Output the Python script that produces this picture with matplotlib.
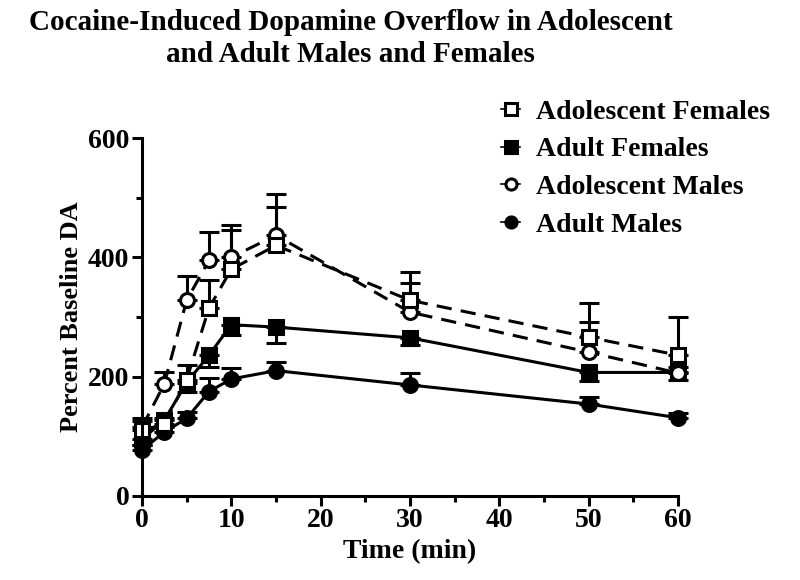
import matplotlib
matplotlib.use("Agg")
import matplotlib.pyplot as plt
from matplotlib.ticker import MultipleLocator
from matplotlib.lines import Line2D

plt.rcParams['font.family'] = ['Liberation Serif', 'DejaVu Serif']
plt.rcParams['font.weight'] = 'bold'

time = [0, 2.5, 5, 7.5, 10, 15, 30, 50, 60]

adol_f = [110, 120, 195, 315, 380, 420, 328, 266, 236]
adol_f_err = [15, 10, 25, 47, 66, 65, 47, 57, 64]

adult_f = [95, 127, 190, 236, 287, 283, 265, 207, 207]
adult_f_err = [10, 10, 15, 20, 17, 27, 12, 15, 12]

adol_m = [115, 188, 328, 395, 400, 437, 308, 241, 206]
adol_m_err = [15, 20, 40, 47, 54, 70, 49, 51, 10]

adult_m = [77, 107, 130, 175, 196, 210, 186, 154, 131]
adult_m_err = [8, 8, 10, 23, 19, 15, 20, 12, 8]

labels = ['Adolescent Females', 'Adult Females', 'Adolescent Males', 'Adult Males']

fig = plt.figure(figsize=(8, 5.8), dpi=100)
ax = fig.add_axes([0.1775, 0.145, 0.67, 0.617])

lw = 2.2
ms = 10
dash = (0, (5, 3))

def series(y, err, marker, mfc, ls, lower=False):
    yerr = [err, [0]*len(err)] if lower else [[0]*len(err), err]
    ax.errorbar(time, y, yerr=yerr, color='black', lw=lw, ls=ls, marker=marker,
                ms=ms, mfc=mfc, mec='black', mew=2.2, capsize=7, capthick=2.2,
                elinewidth=2.2, clip_on=False)

series(adult_m, adult_m_err, 'o', 'black', '-')
series(adult_f, adult_f_err, 's', 'black', '-', lower=True)
series(adol_m, adol_m_err, 'o', 'white', dash)
series(adol_f, adol_f_err, 's', 'white', dash)

ax.set_xlim(0, 60)
ax.set_ylim(0, 600)
ax.xaxis.set_major_locator(MultipleLocator(10))
ax.xaxis.set_minor_locator(MultipleLocator(5))
ax.yaxis.set_major_locator(MultipleLocator(200))
ax.yaxis.set_minor_locator(MultipleLocator(100))
for s in ['top', 'right']:
    ax.spines[s].set_visible(False)
for s in ['left', 'bottom']:
    ax.spines[s].set_linewidth(2.2)
ax.tick_params(which='major', length=7, width=2.2, labelsize=20, pad=2)
ax.tick_params(which='minor', length=4, width=2.2)
for lab in ax.get_xticklabels() + ax.get_yticklabels():
    lab.set_fontweight('bold')

ax.set_xlabel('Time (min)', fontsize=20, fontweight='bold', labelpad=4)
ax.set_ylabel('Percent Baseline DA', fontsize=19, fontweight='bold', labelpad=4)

fig.text(0.438, 0.985, 'Cocaine-Induced Dopamine Overflow in Adolescent\nand Adult Males and Females',
         ha='center', va='top', fontsize=21, fontweight='bold', linespacing=1.25)

markers = ['s', 's', 'o', 'o']
fills = ['white', 'black', 'white', 'black']
handles = [Line2D([], [], color='black', lw=1.2, marker=m, ms=8, mfc=f, mec='black', mew=2.2)
           for m, f in zip(markers, fills)]
leg = fig.legend(handles, labels,
                 loc='upper left', bbox_to_anchor=(0.595, 0.872), frameon=False,
                 handlelength=0.7, handletextpad=0.55, labelspacing=0.44,
                 prop={'weight': 'bold', 'size': 20})

fig.savefig('out.png', dpi=100)
